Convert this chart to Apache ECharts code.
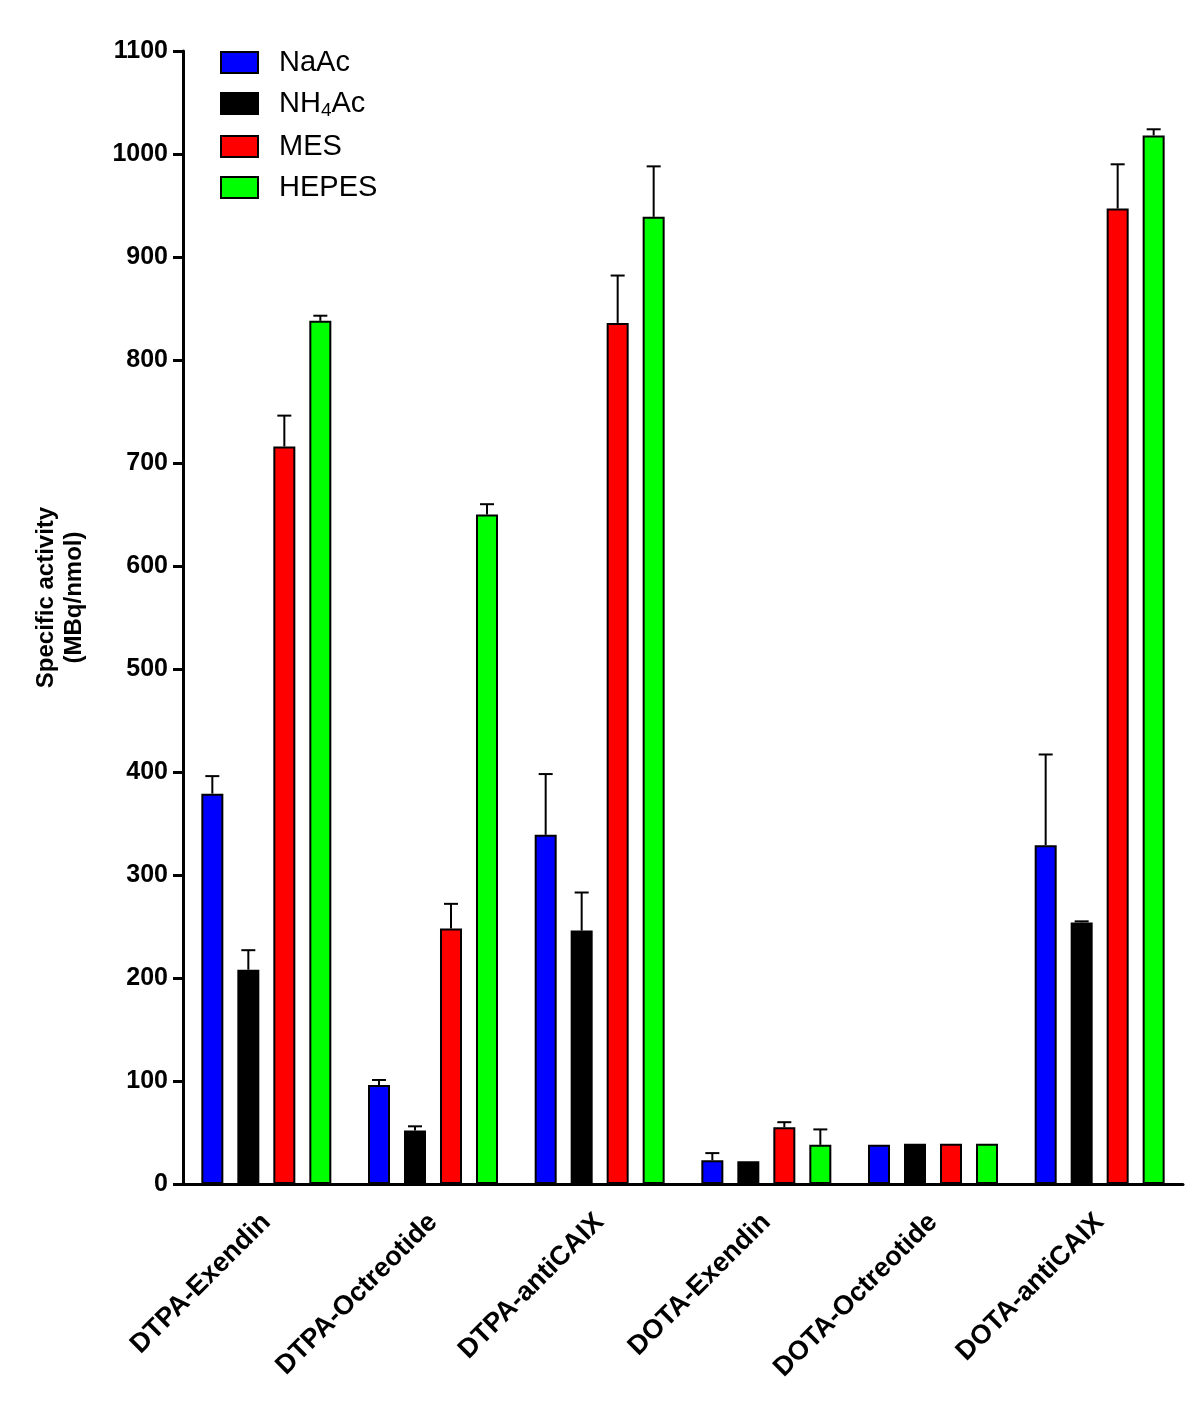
<!DOCTYPE html>
<html>
<head>
<meta charset="utf-8">
<script src="https://cdn.jsdelivr.net/npm/echarts@6/dist/echarts.min.js"></script>
<style>
html,body{margin:0;padding:0;background:#fff;}
#chart{width:1200px;height:1402px;}
</style>
</head>
<body>
<div id="chart"></div>
<script>
var categories = ['DTPA-Exendin','DTPA-Octreotide','DTPA-antiCAIX','DOTA-Exendin','DOTA-Octreotide','DOTA-antiCAIX'];
var seriesNames = ['NaAc','NH4Ac','MES','HEPES'];
var naac   = [379, 96, 339, 23, 38, 329];
var nh4ac  = [208, 52, 246, 22, 39, 254];
var mes    = [716, 248, 836, 55, 39, 947];
var hepes  = [838, 650, 939, 38, 39, 1018];
var naacErr  = [17, 5, 59, 7, 0, 88];
var nh4acErr = [19, 4, 37, 0, 0, 1];
var mesErr   = [30, 24, 46, 5, 0, 43];
var hepesErr = [5, 10, 49, 15, 0, 6];
var yTicks = [0,100,200,300,400,500,600,700,800,900,1000,1100];

var colors = ['#0000FF','#000000','#FF0000','#00FF00'];
var values = [naac, nh4ac, mes, hepes];
var errs = [naacErr, nh4acErr, mesErr, hepesErr];
var BAR_W = 22, GAP = 14;
var FONT = '"Liberation Sans", Arial, sans-serif';

var chart = echarts.init(document.getElementById('chart'));
var series = [];
values.forEach(function(v, i){
  series.push({
    name: seriesNames[i], type: 'bar', data: v,
    barWidth: BAR_W, barGap: (GAP/BAR_W*100).toFixed(1) + '%',
    itemStyle: {color: colors[i], borderColor: '#000', borderWidth: 2},
    z: 3
  });
});
values.forEach(function(v, i){
  var off = (i - 1.5) * (BAR_W + GAP);
  series.push({
    type: 'custom', name: 'err' + i, z: 2,
    data: v.map(function(val, k){ return [k, val, errs[i][k]]; }),
    renderItem: function(params, api){
      var k = api.value(0), val = api.value(1), e = api.value(2);
      if (!e) return null;
      var p0 = api.coord([k, val]);
      var p1 = api.coord([k, val + e]);
      var x = p0[0] + off;
      return {type: 'group', children: [
        {type: 'line', shape: {x1: x, y1: p0[1], x2: x, y2: p1[1]}, style: {stroke: '#000', lineWidth: 2}},
        {type: 'line', shape: {x1: x - 7, y1: p1[1], x2: x + 7, y2: p1[1]}, style: {stroke: '#000', lineWidth: 2}}
      ]};
    }
  });
});

chart.setOption({
  animation: false,
  backgroundColor: '#fff',
  textStyle: {fontFamily: FONT},
  grid: {left: 183, right: 17, top: 51, bottom: 218, containLabel: false},
  legend: {
    data: seriesNames, orient: 'vertical', left: 215, top: 43,
    itemWidth: 37, itemHeight: 21, itemGap: 12, icon: 'rect',
    selectedMode: false,
    formatter: function(n){ return n === 'NH4Ac' ? '{a|NH}{s|4}{a|Ac}' : '{a|' + n + '}'; },
    textStyle: {
      fontFamily: FONT, fontSize: 29, color: '#000', padding: [0,0,0,16],
      rich: {
        a: {fontFamily: FONT, fontSize: 29, color: '#000'},
        s: {fontFamily: FONT, fontSize: 19, color: '#000', verticalAlign: 'bottom', padding: [14,0,0,0]}
      }
    }
  },
  xAxis: {
    type: 'category', data: categories,
    axisLine: {lineStyle: {color: '#000', width: 3}},
    axisTick: {alignWithLabel: true, length: 10, lineStyle: {color: '#000', width: 3}},
    axisLabel: {rotate: 45, fontFamily: FONT, fontSize: 27, fontWeight: 'bold', color: '#000', margin: 34, interval: 0}
  },
  yAxis: {
    type: 'value', min: 0, max: 1100, interval: 100,
    name: 'Specific activity\n(MBq/nmol)', nameLocation: 'middle', nameGap: 95, nameRotate: 90,
    nameTextStyle: {fontFamily: FONT, fontSize: 24, fontWeight: 'bold', color: '#000', lineHeight: 28, padding: [0,0,0,40]},
    splitLine: {show: false},
    axisLine: {show: true, lineStyle: {color: '#000', width: 3}},
    axisTick: {show: true, length: 10, lineStyle: {color: '#000', width: 3}},
    axisLabel: {fontFamily: FONT, fontSize: 25, fontWeight: 'bold', color: '#000', margin: 15,
      formatter: function(v){ return yTicks.indexOf(v) >= 0 ? String(v) : ''; }}
  },
  series: series
});
</script>
</body>
</html>
